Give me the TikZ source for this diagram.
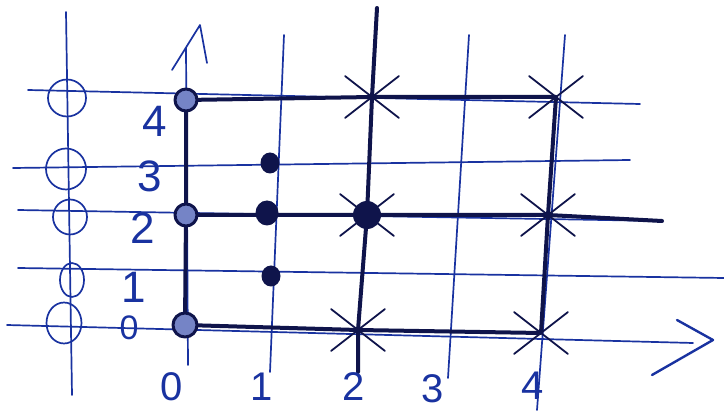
\documentclass[tikz,border=0pt]{standalone}
\usepackage{fontspec}
\setmainfont{Liberation Sans}
\usetikzlibrary{shapes.misc,shapes.geometric}
\definecolor{ink}{RGB}{25,50,160}
\definecolor{darkink}{RGB}{15,20,75}
\begin{document}
\begin{tikzpicture}[x=1pt,y=-1pt,line cap=round,line join=round]
\tikzset{
  inkline/.style={draw=ink,line width=1.7pt},
  boldline/.style={draw=darkink,line width=4pt},
  ring/.style={circle,draw=ink,line width=1.7pt,inner sep=0pt},
  odot/.style={circle,draw=darkink,fill=ink!60,line width=3pt,inner sep=0pt,minimum size=22pt},
  fdot/.style={ellipse,fill=darkink,inner sep=0pt,minimum width=19pt,minimum height=21pt},
  bigdot/.style={circle,fill=darkink,inner sep=0pt,minimum size=28pt},
  xmark/.style={cross out,draw=darkink,line width=1.8pt,inner sep=0pt,minimum width=52pt,minimum height=40pt},
  lbl/.style={text=ink,inner sep=0pt,font=\fontsize{44}{46}\selectfont},
  blbl/.style={lbl,font=\fontsize{40}{42}\selectfont}
}
\useasboundingbox (0,0) rectangle (724,414);
% line end points
\coordinate (h4a) at (28,90); \coordinate (h4b) at (640,104);
\coordinate (h3a) at (13,168); \coordinate (h3b) at (630,160);
\coordinate (h2a) at (18,210); \coordinate (h2b) at (662,221);
\coordinate (h1a) at (18,268); \coordinate (h1b) at (724,278);
\coordinate (h0a) at (7,325);  \coordinate (h0b) at (693,343);
\coordinate (la) at (66,12);   \coordinate (lb) at (72,395);
\coordinate (v0a) at (186,48); \coordinate (v0b) at (188,365);
\coordinate (v1a) at (284,35); \coordinate (v1b) at (270,372);
\coordinate (v2a) at (377,8);  \coordinate (v2b) at (358,372);
\coordinate (v3a) at (469,35); \coordinate (v3b) at (448,378);
\coordinate (v4a) at (565,35); \coordinate (v4b) at (537,410);
% arrow heads
\coordinate (ya1) at (172,70); \coordinate (ya2) at (200,25); \coordinate (ya3) at (207,63);
\coordinate (xa1) at (677,320); \coordinate (xa2) at (713,340); \coordinate (xa3) at (652,375);
% thin grid
\draw[inkline] (h4a) -- (h4b);
\draw[inkline] (h3a) -- (h3b);
\draw[inkline] (h2a) -- (h2b);
\draw[inkline] (h1a) -- (h1b);
\draw[inkline] (h0a) -- (h0b);
\draw[inkline] (la) -- (lb);
\draw[inkline] (v0a) -- (v0b);
\draw[inkline] (v1a) -- (v1b);
\draw[inkline] (v3a) -- (v3b);
\draw[inkline] (v4a) -- (v4b);
\draw[inkline] (ya1) -- (ya2) -- (ya3);
\draw[inkline,line width=2.4pt] (xa1) -- (xa2) -- (xa3);
% left circles
\node[ring,ellipse,minimum width=38pt,minimum height=37pt] (c4) at (67,98) {};
\node[ring,ellipse,minimum width=40pt,minimum height=41pt] (c3) at (66,169) {};
\node[ring,ellipse,minimum width=34pt,minimum height=35pt] (c2) at (70,217) {};
\node[ring,ellipse,minimum width=24pt,minimum height=34pt] (c1) at (72,280) {};
\node[ring,ellipse,minimum width=35pt,minimum height=41pt] (c0) at (64,323) {};
% bold strokes
\coordinate (p4) at (186,100); \coordinate (p2) at (186,215); \coordinate (p0) at (185,325);
\coordinate (q24) at (372,97); \coordinate (q22) at (367,215); \coordinate (q20) at (358,330);
\coordinate (q44) at (556,97); \coordinate (q42) at (548,215); \coordinate (q40) at (541,333);
\draw[boldline] (p4) -- (q24) -- (q44) -- (q42) -- (q40) -- (q20) -- (p0) -- (p2) -- (p4);
\draw[boldline] (p2) -- (q22) -- (q42) -- (h2b);
\draw[boldline] (v2a) -- (q24) -- (q22) -- (q20) -- (v2b);
% markers
\node[odot] (o4) at (p4) {};
\node[odot] (o2) at (p2) {};
\node[odot,minimum size=24pt] (o0) at (p0) {};
\node[fdot] (d3) at (270,163) {};
\node[fdot,minimum width=23pt,minimum height=25pt] (d2) at (267,213) {};
\node[fdot] (d1) at (271,276) {};
\node[bigdot] (b22) at (q22) {};
\node[xmark] (x24) at (q24) {};
\node[xmark] (x22) at (q22) {};
\node[xmark] (x20) at (q20) {};
\node[xmark] (x44) at (q44) {};
\node[xmark] (x42) at (q42) {};
\node[xmark] (x40) at (q40) {};
% labels
\node[lbl] (l4) at (155,121) {4};
\node[lbl] (l3) at (150,176) {3};
\node[lbl] (l2) at (143,228) {2};
\node[lbl] (l1) at (134,287) {1};
\node[lbl,font=\fontsize{34}{36}\selectfont] (l0) at (129,328) {0};
\node[blbl] (b0) at (172,387) {0};
\node[blbl] (b1) at (262,387) {1};
\node[blbl] (b2) at (354,387) {2};
\node[blbl] (b3) at (433,389) {3};
\node[blbl] (b4) at (533,386) {4};
\end{tikzpicture}
\end{document}
